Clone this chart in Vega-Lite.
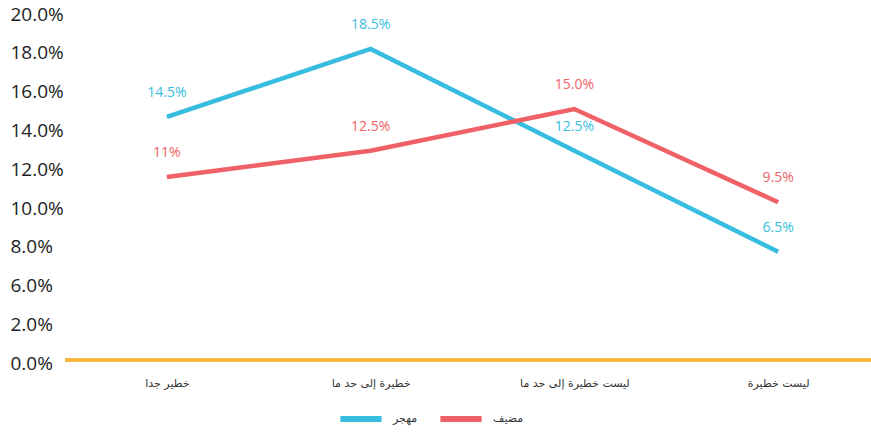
{
  "$schema": "https://vega.github.io/schema/vega-lite/v6.json",
  "width": 815,
  "height": 349,
  "autosize": {"type": "none"},
  "padding": {"left": 65, "top": 14, "right": 0, "bottom": 69},
  "background": "white",
  "config": {"view": {"stroke": null}, "axis": {"grid": false, "labelOverlap": false}},
  "data": {
    "values": [
      {"cat": "خطير جدا", "series": "مهجر", "value": 14.7, "label": "14.5%"},
      {"cat": "خطيرة إلى حد ما", "series": "مهجر", "value": 18.2, "label": "18.5%"},
      {"cat": "ليست خطيرة إلى حد ما", "series": "مهجر", "value": 12.95, "label": "12.5%"},
      {"cat": "ليست خطيرة", "series": "مهجر", "value": 7.75, "label": "6.5%"},
      {"cat": "خطير جدا", "series": "مضيف", "value": 11.6, "label": "11%"},
      {"cat": "خطيرة إلى حد ما", "series": "مضيف", "value": 12.95, "label": "12.5%"},
      {"cat": "ليست خطيرة إلى حد ما", "series": "مضيف", "value": 15.1, "label": "15.0%"},
      {"cat": "ليست خطيرة", "series": "مضيف", "value": 10.3, "label": "9.5%"}
    ]
  },
  "layer": [
    {
      "mark": {"type": "line", "strokeWidth": 4.5},
      "encoding": {
        "x": {
          "field": "cat", "type": "nominal",
          "sort": ["خطير جدا", "خطيرة إلى حد ما", "ليست خطيرة إلى حد ما", "ليست خطيرة"],
          "scale": {"type": "point", "padding": 0.5},
          "axis": {"title": null, "domain": false, "ticks": false, "tickSize": 0, "labelPadding": 14, "labelFont": "DejaVu Sans", "labelFontSize": 11, "labelColor": "#333333", "labelAngle": 0, "labelOverlap": false}
        },
        "y": {
          "field": "value", "type": "quantitative",
          "scale": {"type": "linear", "domain": [0, 2, 6, 20], "range": [349, 310.2, 271.6, 0]},
          "axis": {"title": null, "domain": false, "ticks": false, "tickSize": 0, "tickCount": 30, "values": [0, 2, 6, 8, 10, 12, 14, 16, 18, 20], "labelExpr": "format(datum.value, '.1f') + '%'", "labelAlign": "left", "labelBaseline": "middle", "labelPadding": 55, "labelFont": "Open Sans", "labelFontSize": 19, "labelColor": "#222222", "labelOverlap": false, "labelBound": false}
        },
        "color": {
          "field": "series", "type": "nominal",
          "scale": {"domain": ["مهجر", "مضيف"], "range": ["#36bde0", "#ef6166"]},
          "legend": {"title": null, "orient": "none", "direction": "horizontal", "legendX": 272, "legendY": 381, "symbolType": "stroke", "symbolStrokeWidth": 6, "symbolSize": 1700, "labelFont": "DejaVu Sans", "labelFontSize": 11, "labelColor": "#333333", "labelOffset": 8, "columnPadding": 10}
        }
      }
    },
    {
      "data": {"values": [{"base": 0.16}]},
      "mark": {"type": "rule", "color": "#f6b73c", "strokeWidth": 4},
      "encoding": {
        "y": {"field": "base", "type": "quantitative"}
      }
    },
    {
      "mark": {"type": "text", "dy": -24, "fontSize": 14, "font": "Open Sans"},
      "encoding": {
        "x": {"field": "cat", "type": "nominal", "sort": ["خطير جدا", "خطيرة إلى حد ما", "ليست خطيرة إلى حد ما", "ليست خطيرة"]},
        "y": {"field": "value", "type": "quantitative"},
        "text": {"field": "label"},
        "color": {"field": "series", "type": "nominal", "legend": null}
      }
    }
  ]
}
